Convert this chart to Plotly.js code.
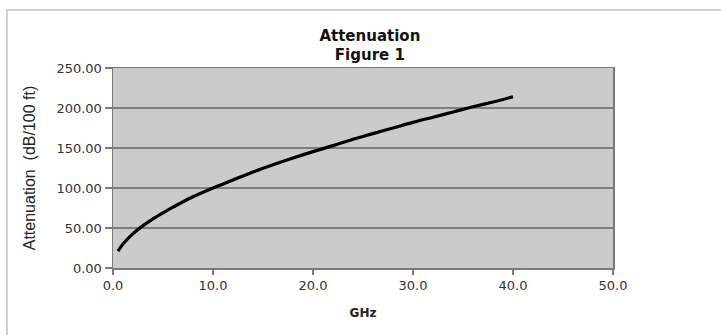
<!DOCTYPE html>
<html>
<head>
<meta charset="utf-8">
<script src="https://cdn.plot.ly/plotly-3.0.1.min.js"></script>
<style>
  html, body { margin: 0; padding: 0; background: #fff; }
  #frame { position: absolute; left: 6px; top: 9px; width: 760px; height: 400px;
           border-left: 2px solid #d0d0d0; border-top: 2px solid #d0d0d0; pointer-events: none; }
  #chart { position: absolute; left: 0; top: 0; width: 721px; height: 335px; }
</style>
</head>
<body>
<div id="chart"></div>
<div id="frame"></div>
<script>
// Frequency (GHz) and attenuation (dB/100 ft)
var ghz = [0.5, 1, 2, 3, 4, 5, 6, 8, 10, 12, 14, 16, 18, 20, 22, 24, 26, 28, 30, 32, 34, 36, 38, 40];
var attenuation = [21, 30, 43, 53, 61.5, 69, 76, 89, 100, 110, 120, 129, 137.5, 145.5, 153, 161, 168, 175, 182, 188.5, 195, 201.5, 207.5, 214];
var yTicks = [0, 50, 100, 150, 200, 250];
var yTickText = ['0.00', '50.00', '100.00', '150.00', '200.00', '250.00'];
var xTicks = [0, 10, 20, 30, 40, 50];
var xTickText = ['0.0', '10.0', '20.0', '30.0', '40.0', '50.0'];

var trace = {
  x: ghz, y: attenuation, type: 'scatter', mode: 'lines',
  line: { color: '#000000', width: 3.2, shape: 'spline', smoothing: 1 },
  hoverinfo: 'skip'
};

var layout = {
  width: 721, height: 335,
  margin: { l: 113, r: 108, t: 68, b: 67 },
  paper_bgcolor: '#ffffff',
  plot_bgcolor: '#cbcbcb',
  showlegend: false,
  font: { family: 'DejaVu Sans, Verdana, sans-serif', color: '#222' },
  title: {
    text: '<b>Attenuation</b><br><b>Figure 1</b>',
    font: { family: 'DejaVu Sans, Verdana, sans-serif', size: 15, color: '#111' },
    x: 0.513, xanchor: 'center', xref: 'container',
    y: 0.878, yanchor: 'top', yref: 'container'
  },
  xaxis: {
    range: [0, 50], tickvals: xTicks, ticktext: xTickText,
    showgrid: false, zeroline: false,
    showline: true, mirror: true, linecolor: '#7a7a7a', linewidth: 1.5,
    ticks: 'outside', ticklen: 5, tickcolor: '#7a7a7a', tickwidth: 1.5,
    tickfont: { family: 'DejaVu Sans, Verdana, sans-serif', size: 13, color: '#333' },
    title: { text: '<b>GHz</b>', standoff: 16,
             font: { family: 'DejaVu Sans, Verdana, sans-serif', size: 12, color: '#222' } }
  },
  yaxis: {
    range: [0, 250], tickvals: yTicks, ticktext: yTickText,
    showgrid: true, gridcolor: '#7f7f7f', gridwidth: 1.5, zeroline: false,
    showline: true, mirror: true, linecolor: '#7a7a7a', linewidth: 1.5,
    ticks: 'outside', ticklen: 7, tickcolor: '#7a7a7a', tickwidth: 1.5,
    tickfont: { family: 'DejaVu Sans, Verdana, sans-serif', size: 13, color: '#333' },
    title: { text: 'Attenuation  (dB/100 ft)', standoff: 17,
             font: { family: 'Liberation Sans, Arial, sans-serif', size: 16, color: '#222' } }
  }
};

Plotly.newPlot('chart', [trace], layout, { displayModeBar: false, staticPlot: true });
</script>
</body>
</html>
